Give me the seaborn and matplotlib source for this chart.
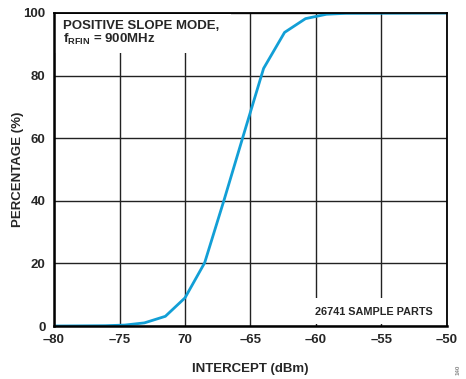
import matplotlib
matplotlib.use("Agg")
import matplotlib.pyplot as plt
from matplotlib.patches import Rectangle
import seaborn as sns
import pandas as pd

# intercept (dBm) vs cumulative percentage of parts
intercept = [-80, -76.1, -74.6, -73.1, -71.5, -70.0, -68.5, -67.0, -65.5,
             -64.0, -62.4, -60.8, -59.2, -57.7, -50]
percentage = [0, 0.1, 0.3, 1.0, 3.1, 9.0, 20.2, 40.5, 61.5,
              82.3, 93.8, 98.2, 99.6, 99.9, 100]

x_ticks = [-80, -75, -70, -65, -60, -55, -50]
x_tick_labels = ["\u201380", "\u201375", "70", "\u201365", "\u201360", "\u201355", "\u201350"]
y_ticks = [0, 20, 40, 60, 80, 100]

df = pd.DataFrame({"intercept": intercept, "percentage": percentage})

sns.set_style("white")
plt.rcParams["font.family"] = ["Liberation Sans", "DejaVu Sans"]
plt.rcParams["font.weight"] = "bold"
plt.rcParams["mathtext.fontset"] = "custom"
plt.rcParams["mathtext.rm"] = "Liberation Sans:bold"
plt.rcParams["mathtext.it"] = "Liberation Sans:bold"
plt.rcParams["mathtext.bf"] = "Liberation Sans:bold"

fig = plt.figure(figsize=(4.66, 3.79), dpi=100)
ax = fig.add_axes([0.1159, 0.1398, 0.8433, 0.8259])

sns.lineplot(data=df, x="intercept", y="percentage", ax=ax,
             color="#129fd6", linewidth=2.0, zorder=3)

ax.set_xlim(-80, -50)
ax.set_ylim(0, 100)
ax.set_xticks(x_ticks)
ax.set_xticklabels(x_tick_labels)
ax.set_yticks(y_ticks)
ax.tick_params(axis="both", length=0, labelsize=9.5, pad=6)
for lab in ax.get_xticklabels() + ax.get_yticklabels():
    lab.set_fontweight("bold")

ax.set_axisbelow(True)
ax.grid(True, color="#222222", linewidth=1.0)
for s in ax.spines.values():
    s.set_color("black")
    s.set_linewidth(1.3)
    s.set_zorder(10)
ax.spines["left"].set_linewidth(1.8)
ax.spines["bottom"].set_linewidth(1.8)

ax.set_xlabel("INTERCEPT (dBm)", fontsize=9.5, fontweight="bold", labelpad=12)
ax.set_ylabel("PERCENTAGE (%)", fontsize=9.5, fontweight="bold", labelpad=0)

# white label boxes that interrupt the grid
ax.add_patch(Rectangle((0, 0.872), 0.45, 0.125, transform=ax.transAxes,
                       facecolor="white", edgecolor="none", zorder=1.5))
ax.add_patch(Rectangle((0.626, 0.006), 0.37, 0.084, transform=ax.transAxes,
                       facecolor="white", edgecolor="none", zorder=1.5))

ax.text(0.023, 0.977, "POSITIVE SLOPE MODE,", transform=ax.transAxes,
        fontsize=9.5, fontweight="bold", va="top", ha="left", zorder=4)
ax.text(0.023, 0.903, r"f$_\mathrm{RFIN}$ = 900MHz", transform=ax.transAxes,
        fontsize=9.5, fontweight="bold", va="baseline", ha="left", zorder=4)
ax.text(0.964, 0.045, "26741 SAMPLE PARTS", transform=ax.transAxes,
        fontsize=7.8, fontweight="bold", va="center", ha="right", zorder=4)

fig.text(0.982, 0.025, "140", rotation=90, fontsize=4.5, color="#888888",
         ha="center", va="center")

fig.savefig("out.png", dpi=100)
